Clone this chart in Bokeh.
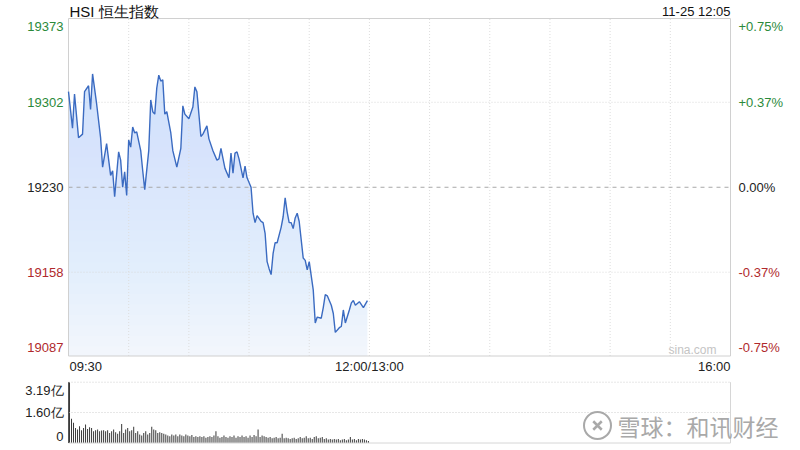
import numpy as np
from bokeh.plotting import figure
from bokeh.models import Range1d, ColumnDataSource
from bokeh.core.properties import value
from bokeh.embed import file_html
from bokeh.resources import INLINE

# ---------------- data ----------------
title_text = "HSI 恒生指数"
stamp_text = "11-25 12:05"
watermark_text = "雪球：和讯财经"
site_text = "sina.com"

# minutes after 09:30 and index level
minutes = [0, 2, 3, 5, 7, 8, 10, 11, 12, 14, 16, 17, 19, 21, 22, 23, 25, 26, 27, 28,
           29, 30, 31, 32, 33, 34, 36, 37, 38, 40, 41, 42, 43, 44, 45, 46, 47, 48, 49, 51,
           52, 54, 56, 57, 58, 60, 62, 63, 64, 66, 67, 69, 70, 72, 74, 75, 76, 78, 80, 81,
           82, 83, 84, 85, 86, 87, 88, 89, 91, 92, 93, 94, 96, 97, 98, 99, 100, 101, 102, 103,
           104, 106, 107, 108, 109, 110, 111, 112, 113, 114, 115, 117, 118, 119, 120, 122, 123, 124, 126, 127,
           128, 129, 131, 132, 133, 135, 136, 137, 138, 140, 141, 142, 143, 145, 147, 149]
prices = [19311, 19280, 19309, 19272, 19275, 19311, 19316, 19296, 19326, 19301,
          19272, 19247, 19267, 19240, 19244, 19222, 19260, 19253, 19230, 19243,
          19223, 19270, 19264, 19281, 19276, 19277, 19261, 19244, 19228, 19261,
          19304, 19294, 19292, 19314, 19325, 19320, 19321, 19292, 19294, 19276,
          19261, 19247, 19263, 19299, 19292, 19288, 19298, 19315, 19311, 19273,
          19275, 19282, 19271, 19261, 19253, 19254, 19263, 19246, 19238, 19259,
          19242, 19259, 19260, 19254, 19246, 19238, 19248, 19238, 19230, 19208,
          19200, 19206, 19201, 19200, 19191, 19167, 19161, 19156, 19174, 19183,
          19183, 19196, 19205, 19221, 19209, 19200, 19200, 19195, 19204, 19208,
          19201, 19170, 19168, 19160, 19167, 19143, 19115, 19120, 19119, 19128,
          19139, 19138, 19130, 19123, 19107, 19111, 19112, 19126, 19115, 19126,
          19132, 19134, 19130, 19133, 19128, 19134]

# per-minute turnover (亿), one bar per minute from 09:30
volumes = [3.19, 1.27, 1.06, 0.79, 0.71, 0.88, 0.67, 0.79, 0.97, 0.74,
           0.83, 0.79, 0.62, 0.67, 0.71, 0.62, 0.65, 0.67, 0.62, 0.67,
           0.53, 0.62, 0.71, 0.56, 0.49, 0.62, 1.00, 0.53, 0.71, 0.79,
           0.62, 0.67, 0.85, 0.53, 0.62, 0.44, 0.39, 0.53, 0.62, 0.44,
           0.53, 0.85, 0.71, 0.67, 0.53, 0.56, 0.53, 0.49, 0.44, 0.39,
           0.35, 0.44, 0.39, 0.44, 0.35, 0.44, 0.39, 0.35, 0.44, 0.39,
           0.35, 0.42, 0.32, 0.35, 0.32, 0.35, 0.32, 0.35, 0.28, 0.32,
           0.35, 0.32, 0.39, 0.62, 0.35, 0.28, 0.32, 0.39, 0.32, 0.28,
           0.35, 0.32, 0.39, 0.28, 0.35, 0.32, 0.39, 0.32, 0.35, 0.28,
           0.39, 0.32, 0.42, 0.35, 0.71, 0.32, 0.39, 0.35, 0.32, 0.28,
           0.32, 0.25, 0.28, 0.32, 0.25, 0.28, 0.49, 0.25, 0.28, 0.25,
           0.21, 0.25, 0.28, 0.21, 0.25, 0.32, 0.25, 0.28, 0.35, 0.25,
           0.28, 0.21, 0.32, 0.35, 0.25, 0.28, 0.32, 0.21, 0.25, 0.18,
           0.21, 0.18, 0.21, 0.18, 0.21, 0.14, 0.18, 0.21, 0.14, 0.18,
           0.32, 0.18, 0.21, 0.14, 0.21, 0.18, 0.21, 0.18, 0.14, 0.11]

price_ticks = [19373, 19302, 19230, 19158, 19087]
pct_labels = ["+0.75%", "+0.37%", "0.00%", "-0.37%", "-0.75%"]
tick_colors = ["#2b8a3a", "#2b8a3a", "#222222", "#b0292c", "#b0292c"]
prev_close = 19230
vol_ticks = [3.19, 1.60, 0]
vol_labels = ["3.19亿", "1.60亿", "0"]
time_labels = ["09:30", "12:00/13:00", "16:00"]
time_label_minutes = [0, 150, 330]
session_len = 330
grid_minutes = list(range(30, 330, 30))

# ---------------- layout (canvas pixels) ----------------
W, H = 800, 450
FL, FR = 68, 730          # frame left / right
PT, PB = 18, 355.5        # price frame top / bottom
VT, VB = 381.7, 442.5     # volume panel top / bottom

xs = (FR - FL) / session_len
x_start = -FL / xs
x_end = session_len + (W - FR) / xs
ps = (PB - PT) / (price_ticks[0] - price_ticks[-1])
y_top = price_ticks[0] + PT / ps
y_bot = price_ticks[-1] - (H - PB) / ps
vs = (VB - VT) / vol_ticks[0]
v_top = vol_ticks[0] + VT / vs
v_bot = -(H - VB) / vs


def px2x(px):
    return x_start + px / xs


def py2p(py):
    return y_top - py / ps


p = figure(width=W, height=H, x_range=Range1d(x_start, x_end), y_range=Range1d(y_bot, y_top),
           output_backend="svg", toolbar_location=None, x_axis_location=None,
           y_axis_location=None, min_border=0)
p.extra_y_ranges = {"vol": Range1d(v_bot, v_top)}
p.xgrid.visible = False
p.ygrid.visible = False
p.outline_line_color = None
p.background_fill_color = "white"
p.border_fill_color = "white"

lo, hi = price_ticks[-1], price_ticks[0]
n = len(grid_minutes)

# area fill (many thin layers for a soft vertical gradient)
t = np.array(minutes, dtype=float)
pr = np.array(prices, dtype=float)
p.varea(x=t, y1=lo, y2=pr, fill_color="#f2f6fc")
for lvl in np.linspace(19095, 19300, 24):
    p.varea(x=t, y1=np.minimum(lvl, pr), y2=pr, fill_color="#c2d6f2", fill_alpha=0.034)

# vertical grid
p.segment(x0=grid_minutes, y0=[lo] * n, x1=grid_minutes, y1=[hi] * n,
          line_color="#dddddd", line_dash="1 2", line_width=1)
# horizontal grid
for tk in price_ticks[1:-1]:
    if tk == prev_close:
        continue
    p.segment(x0=0, y0=tk, x1=session_len, y1=tk, line_color="#d9d9d9", line_dash="1 2", line_width=1)

# previous close dashed line
p.segment(x0=0, y0=prev_close, x1=session_len, y1=prev_close,
          line_color="#a8a8a8", line_dash="4 4", line_width=1)

# frame border
p.quad(left=0, right=session_len, bottom=lo, top=hi, fill_color=None, line_color="#d0d0d0", line_width=1)

# price line
p.line(t, pr, line_color="#3b6bc1", line_width=1.4)

# axis labels
offs = [8, 0, 0, 0, -9]
left_src = ColumnDataSource(dict(x=[px2x(FL - 5)] * 5, y=price_ticks,
                                 text=[str(v) for v in price_ticks], c=tick_colors, o=offs))
p.text(x="x", y="y", text="text", text_color="c", y_offset="o", source=left_src,
       text_align="right", text_baseline="middle", text_font=value("Liberation Sans"),
       text_font_size="13px")
right_src = ColumnDataSource(dict(x=[px2x(FR + 8)] * 5, y=price_ticks,
                                  text=pct_labels, c=tick_colors, o=offs))
p.text(x="x", y="y", text="text", text_color="c", y_offset="o", source=right_src,
       text_align="left", text_baseline="middle", text_font=value("Liberation Sans"),
       text_font_size="13px")

# time labels
ty = py2p(366)
for lab, m, al in zip(time_labels, time_label_minutes, ["left", "center", "right"]):
    p.text(x=[m + (1 / xs if al == "left" else 0)], y=[ty], text=[lab], text_align=al,
           text_baseline="middle", text_color="#222222", text_font=value("Liberation Sans"),
           text_font_size="13px")

# title and time stamp
p.text(x=[px2x(FL + 1)], y=[py2p(10.5)], text=[title_text], text_align="left", text_baseline="middle",
       text_color="#111111", text_font=value("Liberation Sans"), text_font_size="15px")
p.text(x=[px2x(FR)], y=[py2p(11)], text=[stamp_text], text_align="right", text_baseline="middle",
       text_color="#111111", text_font=value("Liberation Sans"), text_font_size="13px")

# sina watermark
p.text(x=[px2x(716)], y=[py2p(349)], text=[site_text], text_align="right", text_baseline="middle",
       text_color="#c4c4c4", text_font=value("Liberation Sans"), text_font_size="12px")

# ---------------- volume panel ----------------
vx = np.arange(len(volumes)) + 0.5
p.vbar(x=vx, top=volumes, bottom=0, width=0.5, y_range_name="vol",
       fill_color="#3a3a3a", line_color=None)
for vt in vol_ticks[:-1]:
    p.segment(x0=0, y0=vt, x1=session_len, y1=vt, y_range_name="vol",
              line_color="#cfcfcf", line_dash="1 2", line_width=1)
p.segment(x0=0, y0=0, x1=session_len, y1=0, y_range_name="vol", line_color="#d6d6d6", line_width=1)
p.segment(x0=session_len, y0=0, x1=session_len, y1=vol_ticks[0], y_range_name="vol",
          line_color="#d6d6d6", line_width=1)
p.segment(x0=0, y0=0, x1=0, y1=vol_ticks[0], y_range_name="vol", line_color="#555555", line_width=1)

vsrc = ColumnDataSource(dict(x=[px2x(FL - 5)] * 3, y=vol_ticks, text=vol_labels, o=[8, 0, -7]))
p.text(x="x", y="y", text="text", y_offset="o", source=vsrc, y_range_name="vol",
       text_align="right", text_baseline="middle", text_color="#222222",
       text_font=value("Liberation Sans"), text_font_size="13px")

# 雪球 watermark
p.scatter(x=[px2x(597)], y=[py2p(425)], marker="circle", size=27, fill_color=None,
          line_color="#a9a9a9", line_width=2)
p.scatter(x=[px2x(597)], y=[py2p(425)], marker="x", size=12, line_color="#a9a9a9", line_width=2.5)
p.text(x=[px2x(617)], y=[py2p(425)], text=[watermark_text], text_align="left", text_baseline="middle",
       text_color="#a9a9a9", text_font=value("Noto Sans CJK SC"), text_font_size="23px")

open("out.html", "w").write(file_html(p, INLINE))
